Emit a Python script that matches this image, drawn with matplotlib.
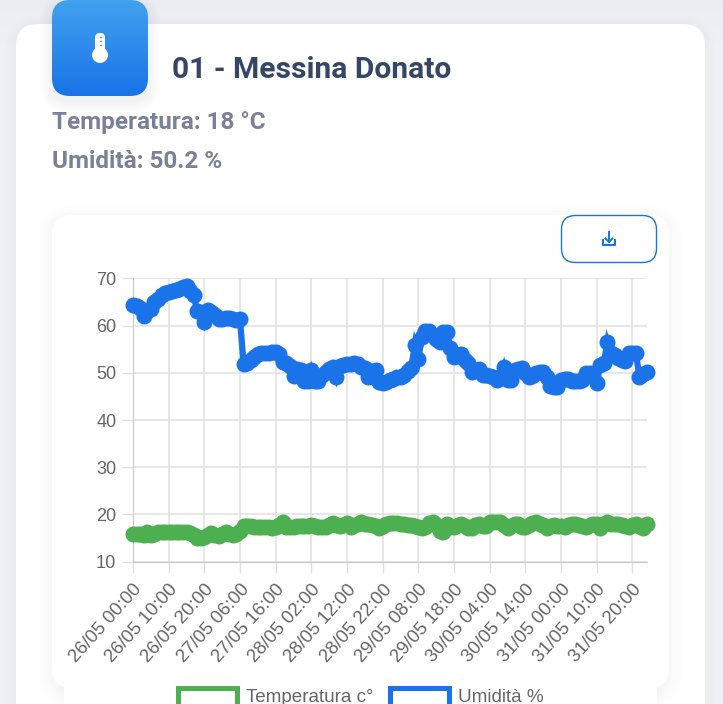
import numpy as np
import matplotlib
matplotlib.use("Agg")
import matplotlib.pyplot as plt
from matplotlib.patches import FancyBboxPatch, Circle, Rectangle

title = "01 - Messina Donato"
line_temp = "Temperatura: 18 °C"
line_hum = "Umidità: 50.2 %"
series_names = ["Temperatura c°", "Umidità %"]
tick_labels = ["26/05 00:00", "26/05 10:00", "26/05 20:00", "27/05 06:00", "27/05 16:00",
               "28/05 02:00", "28/05 12:00", "28/05 22:00", "29/05 08:00", "29/05 18:00",
               "30/05 04:00", "30/05 14:00", "31/05 00:00", "31/05 10:00", "31/05 20:00"]
tick_hours = [0, 10, 20, 30, 40, 50, 60, 70, 80, 90, 100, 110, 120, 130, 140]
y_ticks = [10, 20, 30, 40, 50, 60, 70]

hum_vals = [64.3, 64.1, 63.8, 62.0, 63.0, 63.5, 65.0, 65.6, 66.4, 66.8, 67.2, 67.4, 67.6, 67.8, 68.1, 68.3,
            67.4, 66.4, 63.0, 62.9, 60.8, 63.2, 62.8, 62.2, 61.3, 61.4, 61.5, 61.5, 61.3, 61.2, 61.3,
            51.8, 52.0, 52.6, 53.4, 53.9, 54.2, 54.2, 54.2, 54.3, 54.3, 54.0, 52.3, 52.0, 51.4, 49.4,
            50.8, 50.6, 48.3, 48.2, 50.5, 48.2, 48.2, 49.6, 50.2, 50.8, 51.2, 49.0, 51.5, 51.7, 51.8,
            51.9, 52.0, 51.8, 51.2, 51.0, 49.2, 50.3, 50.6, 48.0, 47.9, 48.0, 48.4, 48.7, 49.0, 49.2,
            49.5, 50.4, 51.0, 55.8, 53.0, 57.5, 58.8, 58.8, 58.0, 57.2, 56.6, 58.6, 58.6, 55.2, 53.3,
            53.7, 54.0, 52.8, 52.0, 50.1, 50.6, 50.9, 49.6, 49.5, 49.3, 49.2, 48.5, 49.0, 51.2, 48.5,
            48.5, 50.5, 50.8, 51.0, 50.0, 49.0, 49.3, 50.0, 50.2, 50.2, 49.0, 47.2, 47.0, 46.9, 48.4,
            48.6, 48.6, 48.3, 48.3, 48.2, 48.4, 49.9, 50.0, 49.0, 47.9, 51.6, 52.0, 56.5, 54.2, 53.7,
            53.2, 52.8, 52.4, 54.2, 54.2, 54.1, 49.2, 49.8, 50.2]

temp_vals = [15.9, 15.9, 15.8, 15.7, 16.2, 15.7, 15.9, 16.2, 16.3, 16.3, 16.2, 16.2, 16.2, 16.3, 16.3, 16.3,
             16.0, 15.7, 15.1, 15.0, 15.2, 15.6, 16.0, 15.6, 15.4, 15.8, 16.2, 15.9, 15.7, 15.8, 16.4,
             17.5, 17.5, 17.5, 17.4, 17.4, 17.4, 17.3, 17.3, 17.2, 17.4, 17.8, 18.5, 17.4, 17.3, 17.4,
             17.5, 17.5, 17.5, 17.6, 17.7, 17.6, 17.4, 17.3, 17.4, 17.8, 18.2, 17.7, 17.6, 17.8, 18.2,
             17.4, 17.7, 18.0, 18.5, 18.0, 17.9, 17.8, 17.6, 17.1, 17.5, 18.0, 18.2, 18.2, 18.1, 18.0,
             17.9, 17.8, 17.7, 17.5, 17.4, 17.2, 17.3, 18.2, 18.5, 17.8, 16.6, 16.3, 18.0, 17.4, 17.4,
             17.8, 17.9, 17.6, 17.2, 17.2, 17.8, 17.9, 17.5, 17.5, 18.3, 18.4, 18.3, 18.3, 17.8, 17.2,
             17.5, 18.0, 18.0, 17.4, 17.4, 17.7, 18.2, 18.5, 18.0, 17.7, 17.1, 17.6, 17.8, 17.6, 17.5,
             17.3, 17.8, 18.0, 18.0, 17.8, 17.5, 17.4, 17.8, 17.9, 18.0, 17.2, 17.9, 18.4, 18.0, 17.9,
             18.0, 17.8, 17.6, 17.4, 17.8, 18.0, 17.6, 17.2, 18.0]

W, H = 723, 704
GREEN, BLUE = "#4caf50", "#1a73e8"
fig = plt.figure(figsize=(W / 100, H / 100), dpi=100, facecolor="#eef0f5")
bg = fig.add_axes([0, 0, 1, 1])
bg.set_xlim(0, W); bg.set_ylim(H, 0); bg.axis("off")

# page gradient at the very top
grad = np.linspace(0.925, 0.94, 60)[:, None]
bg.imshow(np.dstack([grad, grad + 0.005, grad + 0.025]), extent=(0, W, 60, 0), aspect="auto", zorder=0)
bg.set_xlim(0, W); bg.set_ylim(H, 0)


def rbox(x0, y0, x1, y1, r, fc="white", ec="none", lw=0, z=1, alpha=1.0):
    p = FancyBboxPatch((x0 + r, y0 + r), x1 - x0 - 2 * r, y1 - y0 - 2 * r,
                       boxstyle=f"round,pad={r},rounding_size={r}", fc=fc, ec=ec, lw=lw, zorder=z, alpha=alpha)
    bg.add_patch(p)
    return p


def shadow(x0, y0, x1, y1, r, spread, dy, a, z):
    for s in range(spread, 0, -2):
        rbox(x0 - s, y0 - s + dy, x1 + s, y1 + s + dy, r + s, fc="#000000", z=z, alpha=a)


# main card
shadow(16, 24, 705, 760, 22, 10, 2, 0.003, 1)
rbox(16, 24, 705, 760, 22, z=2)
# chart card
shadow(52, 215, 669, 688, 20, 14, 3, 0.004, 3)
rbox(52, 215, 669, 688, 20, z=4)
shadow(64, 680, 657, 760, 4, 8, 1, 0.003, 3)
bg.add_patch(Rectangle((64, 670), 593, 40, fc="white", ec="none", zorder=4))

# icon tile
shadow(52, 0, 148, 96, 18, 12, 5, 0.008, 5)
tile = rbox(52, 0, 148, 96, 18, fc="none", z=6)
g = np.linspace(0, 1, 96)[:, None, None]
top, bot = np.array([0.26, 0.63, 0.94]), np.array([0.10, 0.45, 0.91])
img = top * (1 - g) + bot * g
im = bg.imshow(img, extent=(52, 148, 96, 0), aspect="auto", zorder=6)
im.set_clip_path(tile)
bg.set_xlim(0, W); bg.set_ylim(H, 0)
rbox(95, 33, 105, 55, 4.5, z=7)
bg.add_patch(Circle((100, 55), 8, fc="white", ec="none", zorder=7))
for yy in (37, 41, 45):
    bg.plot([99.5, 101], [yy, yy], color="#4a9cf0", lw=1, zorder=8)

# texts
bg.text(172, 70, title, family="Roboto", weight="bold", fontsize=21.6, color="#344767", va="center", zorder=9)
bg.text(52, 122.5, line_temp, family="Roboto", weight="bold", fontsize=17.5, color="#7b809a", va="center", zorder=9)
bg.text(52, 161.5, line_hum, family="Roboto", weight="bold", fontsize=17.5, color="#7b809a", va="center", zorder=9)

# download button
rbox(561.5, 215.5, 656.5, 262.5, 14, fc="white", ec=BLUE, lw=1, z=9)
bg.plot([609, 609], [232, 242], color=BLUE, lw=1.4, zorder=10)
bg.plot([605.5, 609, 612.5], [238.5, 242, 238.5], color=BLUE, lw=1.4, zorder=10)
bg.plot([603, 603, 615, 615], [239.5, 245, 245, 239.5], color=BLUE, lw=1.5, zorder=10)

# chart
L, R, T, B = 133, 646.6, 278.3, 561.7
ax = fig.add_axes([L / W, 1 - B / H, (R - L) / W, (B - T) / H], facecolor="none", zorder=5)
ax.set_xlim(0, 144)
ax.set_ylim(10, 70)
ax.set_yticks(y_ticks)
ax.set_xticks(tick_hours)
ax.set_xticklabels(tick_labels, rotation=48, ha="right", rotation_mode="anchor",
                   family="Liberation Sans", fontsize=13.4, color="#666666")
for t in ax.get_yticklabels():
    t.set(family="Liberation Sans", fontsize=13.1, color="#666666", y=0)
ax.tick_params(axis="x", length=8, width=1, color="#e0e0e0", pad=6)
ax.tick_params(axis="y", length=8, width=1, color="#e0e0e0", pad=4)
ax.grid(True, color="#e0e0e0", lw=1.1)
ax.set_axisbelow(True)
for s in ("top", "right"):
    ax.spines[s].set_visible(False)
ax.spines["left"].set_color("#c8c8c8")
ax.spines["bottom"].set_color("#c8c8c8")

hours = np.arange(len(hum_vals))
ax.plot(hours, temp_vals, color=GREEN, lw=4.5, marker="o", ms=11.5, mew=0, clip_on=False, zorder=3,
        solid_joinstyle="miter")
ax.plot(hours, hum_vals, color=BLUE, lw=4.5, marker="o", ms=11.5, mew=0, clip_on=False, zorder=4,
        solid_joinstyle="miter")

# legend, cut by the bottom of the image
for x0, x1, col, name in ((175, 239, GREEN, series_names[0]), (387, 451, BLUE, series_names[1])):
    bg.add_patch(Rectangle((x0 + 2.5, 688), x1 - x0 - 5, 40, fc="white", ec=col, lw=3.6, zorder=9))
    bg.text(x1 + 7, 697, name, family="Liberation Sans", fontsize=13.6, color="#666666", va="center", zorder=9)

fig.savefig("out.png", dpi=100, facecolor=fig.get_facecolor())
